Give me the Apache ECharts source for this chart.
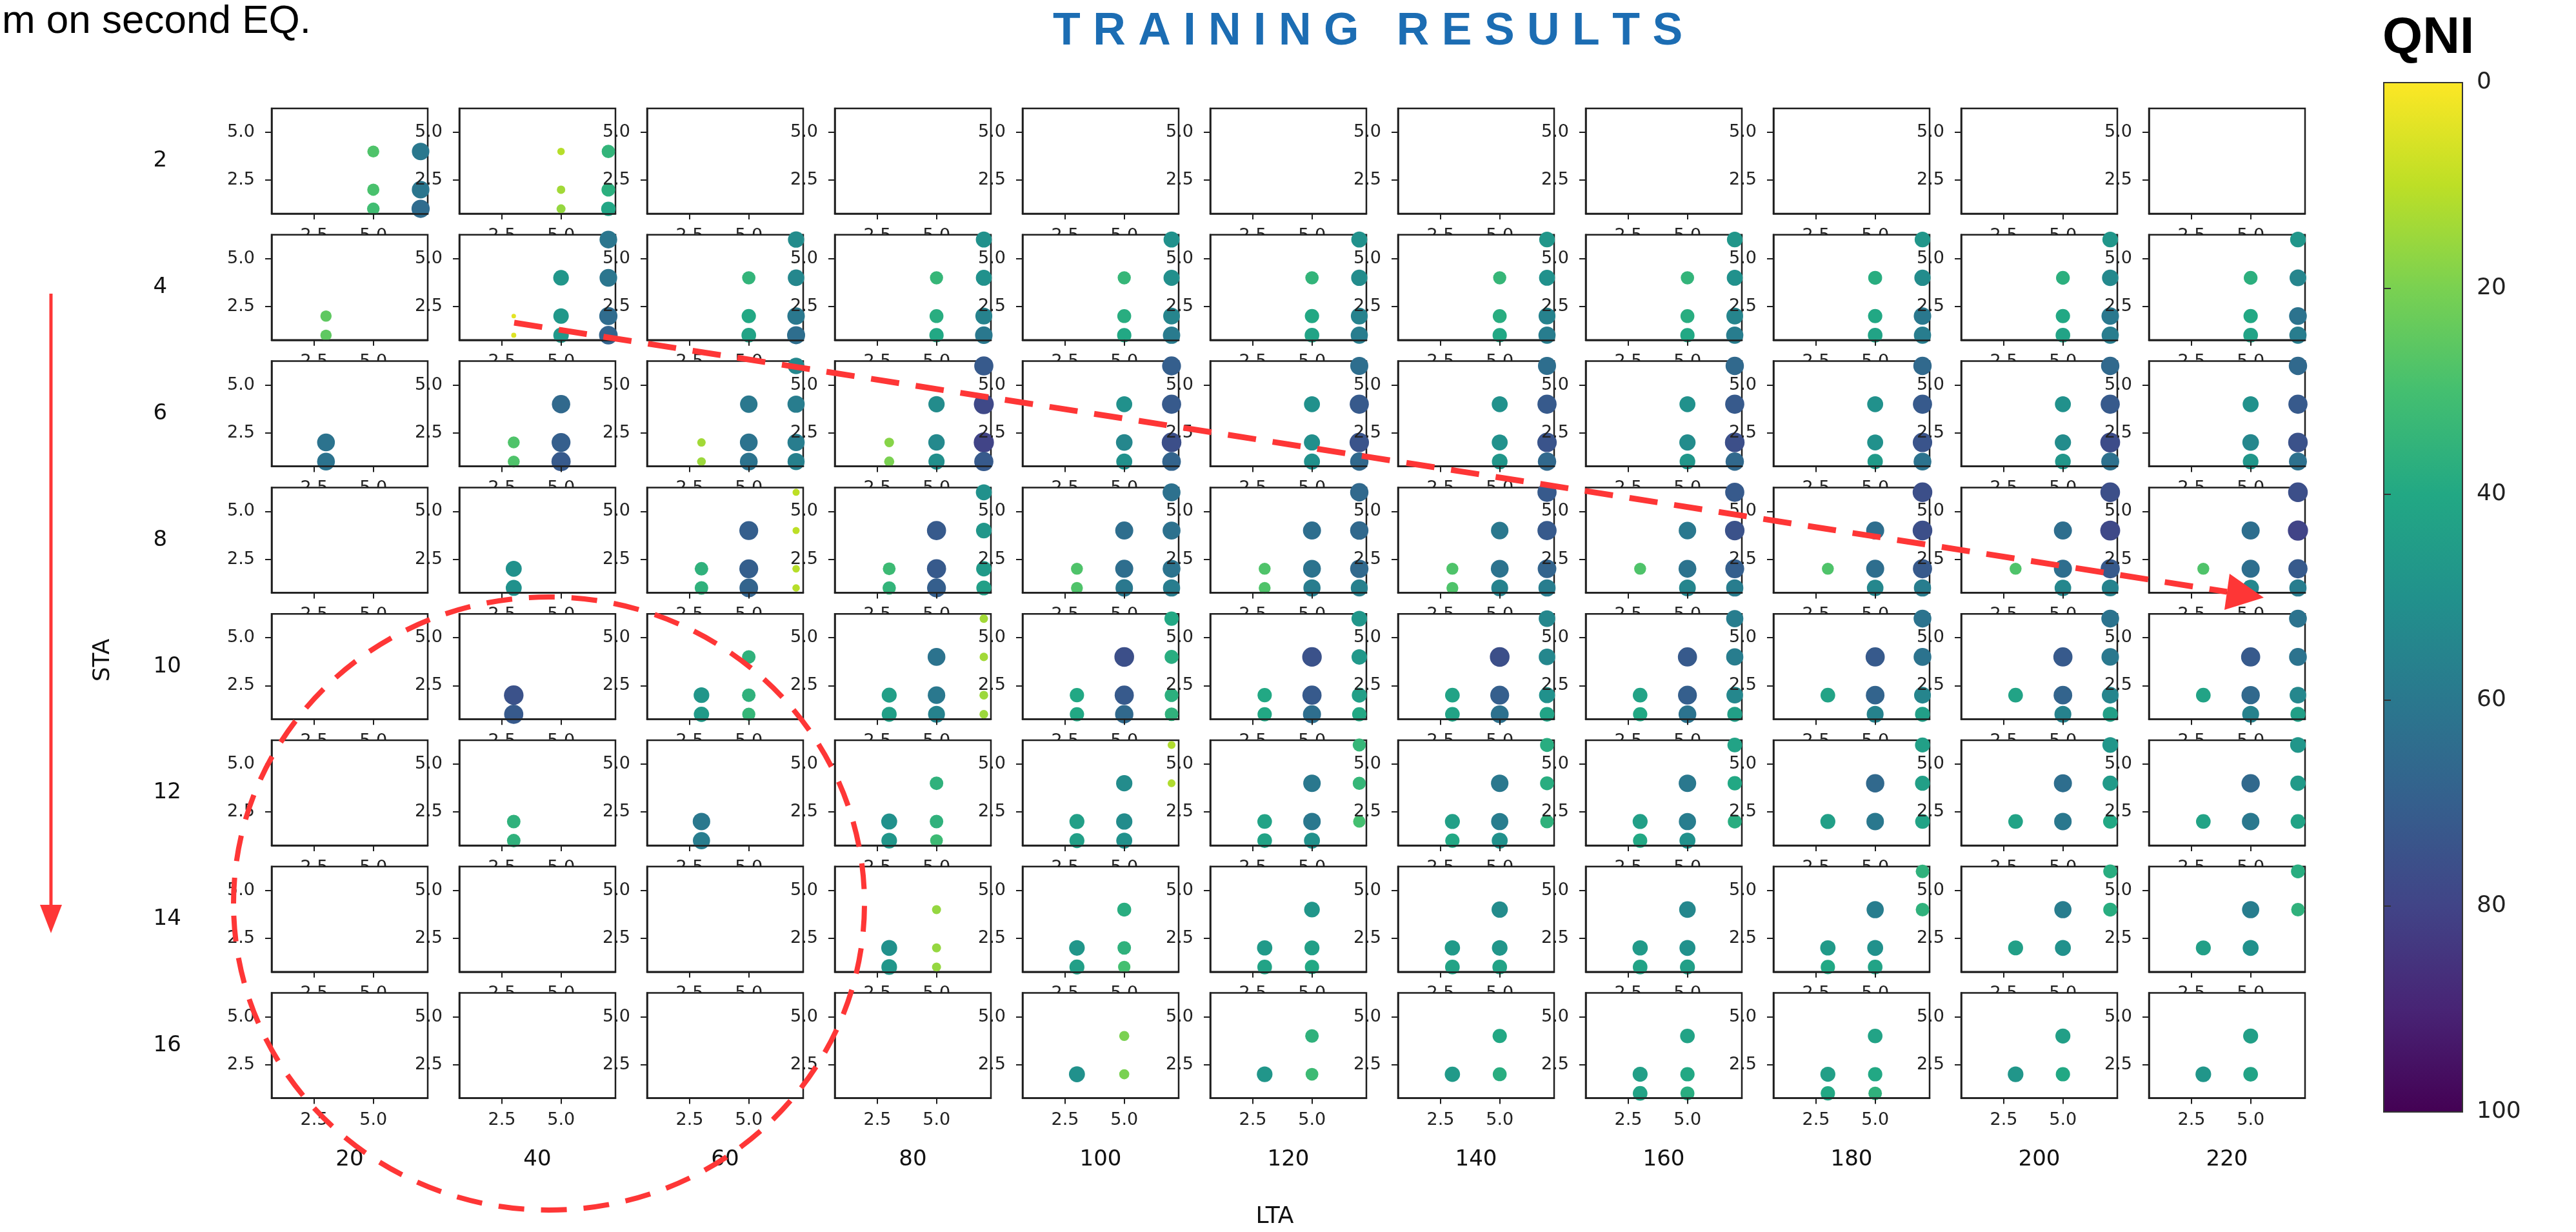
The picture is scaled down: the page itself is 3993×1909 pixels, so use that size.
<!DOCTYPE html>
<html>
<head>
<meta charset="utf-8">
<script src="https://cdn.jsdelivr.net/npm/echarts@6/dist/echarts.min.js"></script>
<style>
html,body{margin:0;padding:0;background:#fff;}
#chart{width:3993px;height:1909px;}
</style>
</head>
<body>
<div id="chart"></div>
<script>
// ---------------- data ----------------
const LTA = [20, 40, 60, 80, 100, 120, 140, 160, 180, 200, 220];
const STA = [2, 4, 6, 8, 10, 12, 14, 16];
const X_TICKS = [2.5, 5.0];
const Y_TICKS = [2.5, 5.0];
const QNI_TICKS = [0, 20, 40, 60, 80, 100];

// each row = one STA value; each cell = one LTA value; points are [x, y, QNI]
const STA_2 = [
  [[5,4,28],[5,2,29],[5,1,31],[7,4,60],[7,2,61],[7,1,65]],
  [[5,4,11],[5,2,14],[5,1,16],[7,4,35],[7,2,37],[7,1,41]],
  [], [], [], [], [], [], [], [], []
];
const STA_4 = [
  [[3,2,25],[3,1,25]],
  [[3,2,4],[3,1,5],[5,4,48],[5,2,47],[5,1,47],[7,6,61],[7,4,61],[7,2,65],[7,1,68]],
  [[5,4,35],[5,2,40],[5,1,42],[7,6,52],[7,4,54],[7,2,60],[7,1,64]],
  [[5,4,34],[5,2,38],[5,1,40],[7,6,50],[7,4,50],[7,2,56],[7,1,60]],
  [[5,4,34],[5,2,38],[5,1,40],[7,6,50],[7,4,51],[7,2,55],[7,1,59]],
  [[5,4,35],[5,2,40],[5,1,42],[7,6,50],[7,4,52],[7,2,56],[7,1,58]],
  [[5,4,34],[5,2,38],[5,1,40],[7,6,48],[7,4,50],[7,2,56],[7,1,58]],
  [[5,4,35],[5,2,38],[5,1,40],[7,6,48],[7,4,50],[7,2,55],[7,1,58]],
  [[5,4,38],[5,2,40],[5,1,42],[7,6,48],[7,4,52],[7,2,60],[7,1,58]],
  [[5,4,37],[5,2,40],[5,1,42],[7,6,48],[7,4,53],[7,2,60],[7,1,58]],
  [[5,4,37],[5,2,40],[5,1,42],[7,6,48],[7,4,55],[7,2,62],[7,1,58]]
];
const STA_6 = [
  [[3,2,62],[3,1,62]],
  [[3,2,28],[3,1,28],[5,4,66],[5,2,70],[5,1,72]],
  [[3,2,14],[3,1,15],[5,4,60],[5,2,62],[5,1,62],[7,6,54],[7,4,58],[7,2,58],[7,1,57]],
  [[3,2,18],[3,1,20],[5,4,52],[5,2,53],[5,1,51],[7,6,72],[7,4,78],[7,2,80],[7,1,72]],
  [[5,4,50],[5,2,54],[5,1,50],[7,6,70],[7,4,72],[7,2,76],[7,1,68]],
  [[5,4,50],[5,2,51],[5,1,50],[7,6,64],[7,4,72],[7,2,74],[7,1,66]],
  [[5,4,50],[5,2,50],[5,1,48],[7,6,64],[7,4,72],[7,2,74],[7,1,66]],
  [[5,4,50],[5,2,52],[5,1,48],[7,6,66],[7,4,72],[7,2,76],[7,1,66]],
  [[5,4,50],[5,2,50],[5,1,46],[7,6,66],[7,4,72],[7,2,74],[7,1,62]],
  [[5,4,50],[5,2,52],[5,1,48],[7,6,66],[7,4,72],[7,2,77],[7,1,63]],
  [[5,4,50],[5,2,54],[5,1,48],[7,6,66],[7,4,72],[7,2,75],[7,1,63]]
];
const STA_8 = [
  [],
  [[3,2,50],[3,1,50]],
  [[3,2,36],[3,1,36],[5,4,70],[5,2,70],[5,1,68],[7,6,10],[7,4,10],[7,2,11],[7,1,11]],
  [[3,2,32],[3,1,35],[5,4,72],[5,2,72],[5,1,70],[7,6,50],[7,4,48],[7,2,46],[7,1,44]],
  [[3,2,28],[3,1,28],[5,4,64],[5,2,64],[5,1,60],[7,6,63],[7,4,63],[7,2,62],[7,1,58]],
  [[3,2,28],[3,1,28],[5,4,64],[5,2,62],[5,1,58],[7,6,66],[7,4,66],[7,2,66],[7,1,57]],
  [[3,2,28],[3,1,28],[5,4,60],[5,2,62],[5,1,56],[7,6,72],[7,4,72],[7,2,68],[7,1,58]],
  [[3,2,28],[5,4,60],[5,2,62],[5,1,55],[7,6,72],[7,4,75],[7,2,70],[7,1,58]],
  [[3,2,28],[5,4,64],[5,2,64],[5,1,54],[7,6,76],[7,4,76],[7,2,72],[7,1,58]],
  [[3,2,28],[5,4,64],[5,2,64],[5,1,54],[7,6,76],[7,4,78],[7,2,72],[7,1,56]],
  [[3,2,28],[5,4,64],[5,2,64],[5,1,54],[7,6,76],[7,4,80],[7,2,72],[7,1,58]]
];
const STA_10 = [
  [],
  [[3,2,75],[3,1,72]],
  [[3,2,48],[3,1,46],[5,4,36],[5,2,36],[5,1,34]],
  [[3,2,44],[3,1,44],[5,4,62],[5,2,60],[5,1,56],[7,6,14],[7,4,14],[7,2,15],[7,1,15]],
  [[3,2,40],[3,1,40],[5,4,76],[5,2,72],[5,1,66],[7,6,40],[7,4,38],[7,2,37],[7,1,36]],
  [[3,2,40],[3,1,40],[5,4,75],[5,2,72],[5,1,64],[7,6,48],[7,4,47],[7,2,44],[7,1,40]],
  [[3,2,42],[3,1,42],[5,4,76],[5,2,70],[5,1,63],[7,6,54],[7,4,54],[7,2,50],[7,1,42]],
  [[3,2,42],[3,1,40],[5,4,72],[5,2,70],[5,1,62],[7,6,58],[7,4,58],[7,2,54],[7,1,44]],
  [[3,2,42],[5,4,72],[5,2,68],[5,1,56],[7,6,62],[7,4,62],[7,2,55],[7,1,44]],
  [[3,2,42],[5,4,72],[5,2,68],[5,1,56],[7,6,62],[7,4,60],[7,2,55],[7,1,44]],
  [[3,2,42],[5,4,72],[5,2,66],[5,1,56],[7,6,62],[7,4,62],[7,2,54],[7,1,44]]
];
const STA_12 = [
  [],
  [[3,2,36],[3,1,36]],
  [[3,2,60],[3,1,58]],
  [[3,2,50],[3,1,48],[5,4,36],[5,2,36],[5,1,32]],
  [[3,2,44],[3,1,44],[5,4,52],[5,2,52],[5,1,50],[7,6,12],[7,4,12]],
  [[3,2,42],[3,1,42],[5,4,60],[5,2,60],[5,1,50],[7,6,34],[7,4,34],[7,2,30]],
  [[3,2,44],[3,1,40],[5,4,60],[5,2,58],[5,1,50],[7,6,38],[7,4,38],[7,2,36]],
  [[3,2,44],[3,1,40],[5,4,60],[5,2,58],[5,1,50],[7,6,42],[7,4,40],[7,2,38]],
  [[3,2,44],[5,4,66],[5,2,60],[7,6,44],[7,4,44],[7,2,42]],
  [[3,2,42],[5,4,64],[5,2,60],[7,6,48],[7,4,46],[7,2,40]],
  [[3,2,42],[5,4,66],[5,2,60],[7,6,48],[7,4,46],[7,2,42]]
];
const STA_14 = [
  [], [], [],
  [[3,2,50],[3,1,48],[5,4,16],[5,2,16],[5,1,16]],
  [[3,2,48],[3,1,44],[5,4,38],[5,2,36],[5,1,30]],
  [[3,2,46],[3,1,42],[5,4,48],[5,2,44],[5,1,40]],
  [[3,2,46],[3,1,42],[5,4,52],[5,2,48],[5,1,42]],
  [[3,2,46],[3,1,42],[5,4,54],[5,2,50],[5,1,44]],
  [[3,2,46],[3,1,40],[5,4,58],[5,2,50],[5,1,42],[7,6,36],[7,4,36]],
  [[3,2,44],[5,4,58],[5,2,50],[7,6,38],[7,4,38]],
  [[3,2,44],[5,4,58],[5,2,50],[7,6,38],[7,4,36]]
];
const STA_16 = [
  [], [], [], [],
  [[3,2,50],[5,4,20],[5,2,20]],
  [[3,2,48],[5,4,36],[5,2,32]],
  [[3,2,46],[5,4,40],[5,2,38]],
  [[3,2,44],[3,1,42],[5,4,42],[5,2,40],[5,1,38]],
  [[3,2,44],[3,1,40],[5,4,42],[5,2,40],[5,1,36]],
  [[3,2,48],[5,4,44],[5,2,40]],
  [[3,2,48],[5,4,44],[5,2,42]]
];
const ROWS = [STA_2, STA_4, STA_6, STA_8, STA_10, STA_12, STA_14, STA_16];

// ---------------- style / layout ----------------
const VIRIDIS = ['#440154','#482475','#414487','#355f8d','#2a788e','#21918c','#22a884','#44bf70','#7ad151','#bddf26','#fde725'];
const VIRIDIS_R = VIRIDIS.slice().reverse();   // QNI 0 -> yellow, 100 -> purple
const INK = '#1e1e1e';
const RED = '#fe3636';
const PLOT_LEFT = 421, COL_PITCH = 291, PLOT_W = 242;
const PLOT_TOP = 168, ROW_PITCH = 195.8, PLOT_H = 163;
const NCOL = LTA.length, NROW = STA.length;

const grids = [], xAxes = [], yAxes = [], series = [];

function subAxis(i, min, max, ticks, isX) {
  return {
    gridIndex: i, type: 'value', min: min, max: max, z: 3 * i + 2,
    axisLine: { show: true, onZero: false, lineStyle: { color: INK, width: 2.5 } },
    axisTick: { show: true, inside: false, length: isX ? 9 : 10, customValues: ticks,
                lineStyle: { color: INK, width: 2 } },
    axisLabel: { show: true, customValues: ticks, formatter: v => Number(v).toFixed(1),
                 margin: isX ? 21 : 26, fontSize: 27, fontFamily: 'DejaVu Sans', color: '#222' },
    splitLine: { show: false }, splitArea: { show: false }
  };
}

ROWS.forEach((row, r) => {
  row.forEach((cell, c) => {
    const i = r * NCOL + c;
    grids.push({
      left: PLOT_LEFT + c * COL_PITCH, top: PLOT_TOP + r * ROW_PITCH,
      width: PLOT_W, height: PLOT_H,
      show: true, backgroundColor: '#ffffff', borderColor: INK, borderWidth: 2.5,
      z: 3 * i, outerBoundsMode: 'none', containLabel: false
    });
    xAxes.push(subAxis(i, 0.7, 7.3, X_TICKS, true));
    yAxes.push(subAxis(i, 0.75, 6.25, Y_TICKS, false));
    if (cell.length) {
      series.push({
        type: 'scatter', xAxisIndex: i, yAxisIndex: i, data: cell,
        symbol: 'circle',
        symbolSize: d => 3.5 * Math.sqrt(d[2]),
        itemStyle: { opacity: 1 },
        clip: true, silent: true, z: 3 * i + 1,
        emphasis: { disabled: true }
      });
    }
  });
});

// outer grid carrying the LTA / STA category labels
const OUTER = grids.length;
grids.push({
  left: PLOT_LEFT + PLOT_W / 2 - COL_PITCH / 2, top: PLOT_TOP + PLOT_H / 2 - ROW_PITCH / 2,
  width: COL_PITCH * NCOL, height: ROW_PITCH * NROW, show: false, z: 0, outerBoundsMode: 'none'
});
xAxes.push({
  gridIndex: OUTER, type: 'category', data: LTA.map(String), position: 'bottom', z: 0,
  axisLine: { show: false }, axisTick: { show: false }, splitLine: { show: false },
  axisLabel: { interval: 0, margin: 62, fontSize: 34, fontFamily: 'DejaVu Sans', color: '#111' }
});
yAxes.push({
  gridIndex: OUTER, type: 'category', data: STA.map(String), inverse: true, position: 'left', z: 0,
  axisLine: { show: false }, axisTick: { show: false }, splitLine: { show: false },
  axisLabel: { interval: 0, align: 'left', margin: 159, fontSize: 34, fontFamily: 'DejaVu Sans', color: '#111' }
});

// colour bar
const CB = grids.length;
grids.push({
  left: 3695, top: 128, width: 122, height: 1595, show: true,
  backgroundColor: { type: 'linear', x: 0, y: 0, x2: 0, y2: 1,
    colorStops: VIRIDIS_R.map((col, k) => ({ offset: k / (VIRIDIS_R.length - 1), color: col })) },
  borderColor: '#333', borderWidth: 2, z: 300, outerBoundsMode: 'none'
});
xAxes.push({ gridIndex: CB, type: 'value', show: false, min: 0, max: 1 });
yAxes.push({
  gridIndex: CB, type: 'value', min: QNI_TICKS[0], max: QNI_TICKS[QNI_TICKS.length - 1],
  inverse: true, position: 'right', z: 301,
  axisLine: { show: false },
  axisTick: { show: true, length: 11, customValues: QNI_TICKS, lineStyle: { color: '#333', width: 2 } },
  axisLabel: { customValues: QNI_TICKS, margin: 22, fontSize: 36, fontFamily: 'DejaVu Sans', color: '#222' },
  splitLine: { show: false }
});

const graphic = [
  { type: 'text', x: 3, y: 34, z: 1000,
    style: { text: 'm on second EQ.', fontSize: 62, fontFamily: 'Liberation Sans', fill: '#000', verticalAlign: 'middle' } },
  { type: 'text', x: 1632, y: 50, z: 1000,
    style: { text: 'T R A I N I N G   R E S U L T S', fontSize: 70, fontWeight: 'bold',
             fontFamily: 'Liberation Sans', fill: '#1c6db3', verticalAlign: 'middle' } },
  { type: 'text', x: 3693, y: 60, z: 1000,
    style: { text: 'QNI', fontSize: 80, fontWeight: 'bold', fontFamily: 'Liberation Sans', fill: '#000', verticalAlign: 'middle' } },
  { type: 'text', x: 160, y: 1023, rotation: Math.PI / 2, z: 1000,
    style: { text: 'STA', fontSize: 36, fontFamily: 'DejaVu Sans', fill: '#111', align: 'center', verticalAlign: 'middle' } },
  { type: 'text', x: 1976, y: 1886, z: 1000,
    style: { text: 'LTA', fontSize: 36, fontFamily: 'DejaVu Sans', fill: '#111', align: 'center', verticalAlign: 'middle' } },
  // dashed ellipse
  { type: 'ellipse', z: 1000, silent: true,
    shape: { cx: 851, cy: 1400, rx: 489, ry: 475 },
    style: { fill: null, stroke: RED, lineWidth: 8, lineDash: [40, 26] } },
  // dashed diagonal arrow
  { type: 'line', z: 1000, silent: true,
    shape: { x1: 797, y1: 500, x2: 3452, y2: 917 },
    style: { stroke: RED, lineWidth: 9, lineDash: [44, 26] } },
  { type: 'polygon', z: 1000, silent: true,
    shape: { points: [[3509, 926], [3456, 889], [3448, 945]] },
    style: { fill: RED } },
  // vertical arrow on the left
  { type: 'line', z: 1000, silent: true,
    shape: { x1: 79, y1: 455, x2: 79, y2: 1410 },
    style: { stroke: RED, lineWidth: 5 } },
  { type: 'polygon', z: 1000, silent: true,
    shape: { points: [[79, 1446], [62, 1402], [96, 1402]] },
    style: { fill: RED } }
];

const option = {
  backgroundColor: '#ffffff',
  animation: false,
  grid: grids,
  xAxis: xAxes,
  yAxis: yAxes,
  visualMap: {
    type: 'continuous', show: false, min: 0, max: 100, dimension: 2,
    seriesIndex: series.map((_, k) => k),
    inRange: { color: VIRIDIS_R }
  },
  series: series,
  graphic: graphic
};

const chart = echarts.init(document.getElementById('chart'), null, { width: 3993, height: 1909, renderer: 'canvas' });
chart.setOption(option);
</script>
</body>
</html>
